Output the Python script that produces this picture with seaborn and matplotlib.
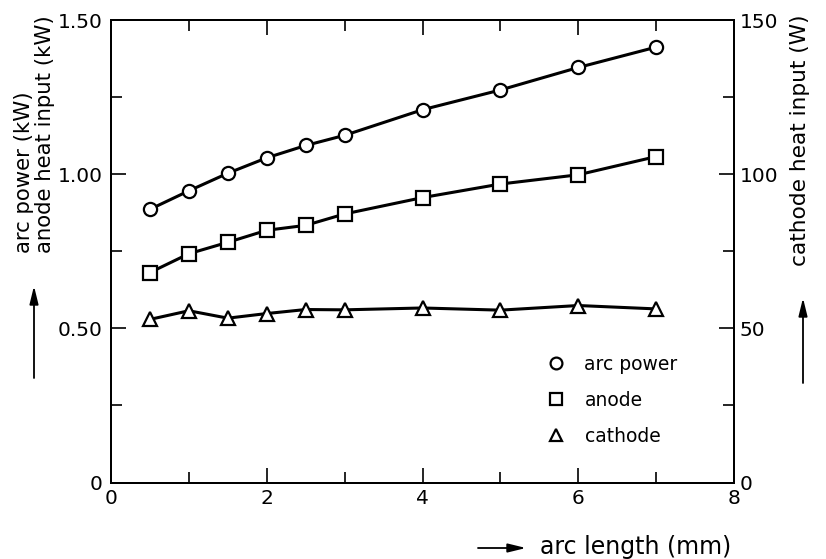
import matplotlib
matplotlib.use("Agg")
import matplotlib.pyplot as plt
from matplotlib.lines import Line2D
import seaborn as sns

# arc length (mm)
arc_length = [0.5, 1, 1.5, 2, 2.5, 3, 4, 5, 6, 7]
# arc power (kW)
arc_power = [0.886, 0.946, 1.003, 1.053, 1.093, 1.126, 1.209, 1.273, 1.346, 1.412]
# anode heat input (kW)
anode_heat = [0.681, 0.742, 0.779, 0.818, 0.834, 0.871, 0.924, 0.968, 0.998, 1.057]
# cathode heat input (W)
cathode_heat = [52.9, 55.7, 53.3, 54.8, 56.1, 56.0, 56.6, 55.9, 57.4, 56.3]

x_ticks = [0, 2, 4, 6, 8]
x_minor = [1, 3, 5, 7]
left_ticks = [0, 0.5, 1.0, 1.5]
left_labels = ["0", "0.50", "1.00", "1.50"]
left_minor = [0.25, 0.75, 1.25]
right_ticks = [0, 50, 100, 150]
right_minor = [25, 75, 125]
series_names = ["arc power", "anode", "cathode"]

sns.set_theme(style="ticks")
plt.rcParams["font.family"] = ["DejaVu Sans"]
plt.rcParams["axes.linewidth"] = 1.4
plt.rcParams["text.color"] = "black"

W, H = 826, 559
fig = plt.figure(figsize=(W / 100, H / 100), dpi=100)
ax = fig.add_axes([111 / W, 1 - 482.5 / H, (734 - 111) / W, (482.5 - 20) / H])
ax2 = ax.twinx()

mk = dict(color="black", linewidth=2.2, markersize=9.5, markerfacecolor="white",
          markeredgecolor="black", markeredgewidth=1.6)
sns.lineplot(x=arc_length, y=arc_power, ax=ax, marker="o", **mk)
sns.lineplot(x=arc_length, y=anode_heat, ax=ax, marker="s", **mk)
sns.lineplot(x=arc_length, y=cathode_heat, ax=ax2, marker="^", **mk)

ax.set_xlim(0, 8)
ax.set_ylim(0, 1.5)
ax2.set_ylim(0, 150)
ax.set_xticks(x_ticks)
ax.set_xticks(x_minor, minor=True)
ax.set_yticks(left_ticks)
ax.set_yticklabels(left_labels)
ax.set_yticks(left_minor, minor=True)
ax2.set_yticks(right_ticks)
ax2.set_yticks(right_minor, minor=True)
ax.set_xlabel("")
ax.set_ylabel("")
ax2.set_ylabel("")

for a in (ax, ax2):
    for s in a.spines.values():
        s.set_visible(True)
        s.set_linewidth(1.4)
        s.set_color("black")
ax.tick_params(axis="x", which="both", direction="in", top=True, bottom=True,
               width=1.2, labelsize=14.5, pad=5, colors="black")
ax.tick_params(axis="y", which="both", direction="in", left=True, right=False,
               width=1.2, labelsize=14.5, pad=6, colors="black")
ax2.tick_params(axis="y", which="both", direction="in", left=False, right=True,
                width=1.2, labelsize=14.5, pad=4, colors="black")
for a in (ax, ax2):
    a.tick_params(which="major", length=11)
    a.tick_params(which="minor", length=8)

# legend with markers only
handles = [Line2D([], [], ls="none", marker=m, markersize=8.5, markerfacecolor="white",
                  markeredgecolor="black", markeredgewidth=1.6) for m in ("o", "s", "^")]
ax2.legend(handles, series_names, loc="upper left",
           bbox_to_anchor=((547 - 111) / 623, (482.5 - 355) / 462.5),
           frameon=False, fontsize=13.5, handlelength=1.0, handletextpad=1.0,
           labelspacing=0.9, borderpad=0, borderaxespad=0, labelcolor="black")

# axis titles with direction arrows
lab = dict(color="black", rotation=90, rotation_mode="anchor", ha="left", va="center")
fig.text(24 / W, 1 - 253 / H, "arc power (kW)", fontsize=15.3, **lab)
fig.text(45 / W, 1 - 253 / H, "anode heat input (kW)", fontsize=15.3, **lab)
fig.text(800 / W, 1 - 266 / H, "cathode heat input (W)", fontsize=15.6, **lab)
fig.text(540 / W, 1 - 547 / H, "arc length (mm)", fontsize=17, color="black",
         ha="left", va="center")

arrow = dict(arrowstyle="-|>,head_length=0.9,head_width=0.22", lw=1.3, color="black",
             shrinkA=0, shrinkB=0)
ax.annotate("", xy=(34, H - 286), xytext=(34, H - 378), xycoords="figure pixels",
            textcoords="figure pixels", arrowprops=arrow, annotation_clip=False)
ax.annotate("", xy=(803, H - 298), xytext=(803, H - 383), xycoords="figure pixels",
            textcoords="figure pixels", arrowprops=arrow, annotation_clip=False)
ax.annotate("", xy=(526, H - 548), xytext=(478, H - 548), xycoords="figure pixels",
            textcoords="figure pixels", arrowprops=arrow, annotation_clip=False)

fig.savefig("out.png", dpi=100, facecolor="white")
